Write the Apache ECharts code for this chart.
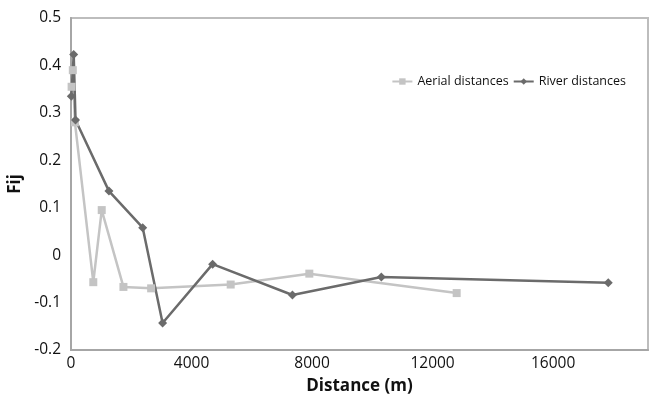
<!DOCTYPE html>
<html>
<head>
<meta charset="utf-8">
<script src="https://cdn.jsdelivr.net/npm/echarts@6/dist/echarts.min.js"></script>
<style>html,body{margin:0;padding:0;background:#fff}#c{width:649px;height:394px}</style>
</head>
<body>
<div id="c"></div>
<script>
const aerialX = [20, 60, 130, 740, 1020, 1740, 2660, 5300, 7910, 12800];
const aerialY = [0.355, 0.39, 0.28, -0.057, 0.095, -0.067, -0.070, -0.062, -0.039, -0.080];
const riverX = [10, 90, 150, 1260, 2380, 3040, 4700, 7350, 10300, 17830];
const riverY = [0.335, 0.423, 0.285, 0.135, 0.058, -0.143, -0.019, -0.084, -0.046, -0.058];
const xTicks = [0, 4000, 8000, 12000, 16000];
const seriesNames = ['Aerial distances', 'River distances'];

const chart = echarts.init(document.getElementById('c'));
const font = 'Open Sans, Noto Sans, sans-serif';
chart.setOption({
  animation: false,
  grid: {left: 71, top: 18, right: 1, bottom: 44, show: true, borderColor: '#bdbdbd', borderWidth: 2,
    containLabel: false, outerBoundsMode: 'none'},
  legend: {
    right: 18, top: 70, itemGap: 4, itemWidth: 20, itemHeight: 8,
    textStyle: {fontFamily: font, fontSize: 12.5, color: '#111'},
    data: seriesNames
  },
  xAxis: {
    type: 'value', min: 0, max: 19150, interval: 4000,
    splitLine: {show: false},
    axisLine: {onZero: false, lineStyle: {color: '#a6a6a6', width: 2}},
    axisTick: {show: false},
    axisLabel: {fontFamily: font, fontSize: 15.5, color: '#111', margin: 6,
      formatter: v => xTicks.includes(v) ? String(v) : ''},
    name: 'Distance (m)', nameLocation: 'middle', nameGap: 28,
    nameTextStyle: {fontFamily: font, fontSize: 17, fontWeight: 'bold', color: '#111'}
  },
  yAxis: {
    type: 'value', min: -0.2, max: 0.5, interval: 0.1,
    splitLine: {show: false},
    axisLine: {show: true, onZero: false, lineStyle: {color: '#a6a6a6', width: 2}},
    axisTick: {show: false},
    axisLabel: {fontFamily: font, fontSize: 15.5, color: '#111', margin: 10,
      formatter: v => String(Math.round(v * 10) / 10)},
    name: 'Fij', nameLocation: 'middle', nameGap: 45, nameRotate: 90,
    nameTextStyle: {fontFamily: font, fontSize: 17, fontWeight: 'bold', color: '#111'}
  },
  series: [
    {
      name: seriesNames[0], type: 'line',
      data: aerialX.map((x, i) => [x, aerialY[i]]),
      symbol: 'rect', symbolSize: 8,
      lineStyle: {color: '#c4c4c4', width: 2.5},
      itemStyle: {color: '#c4c4c4'}
    },
    {
      name: seriesNames[1], type: 'line',
      data: riverX.map((x, i) => [x, riverY[i]]),
      symbol: 'diamond', symbolSize: 9,
      lineStyle: {color: '#6b6b6b', width: 2.5},
      itemStyle: {color: '#6b6b6b'}
    }
  ]
});
</script>
</body>
</html>
